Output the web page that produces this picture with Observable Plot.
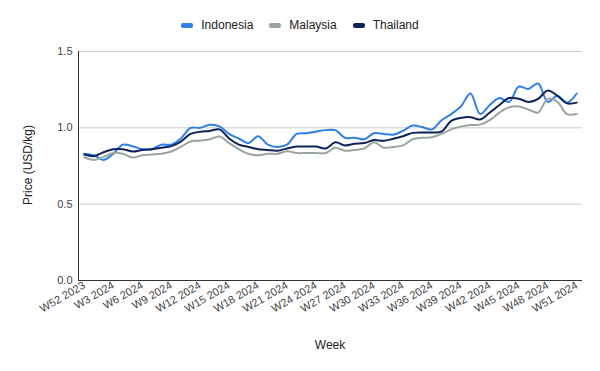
<!DOCTYPE html>
<html><head><meta charset="utf-8">
<script src="https://cdn.jsdelivr.net/npm/d3@7"></script>
<script src="https://cdn.jsdelivr.net/npm/@observablehq/plot@0.6"></script>
<style>
body{margin:0;background:#fff;font-family:"Liberation Sans",Arial,sans-serif;}
#wrap{position:relative;width:600px;height:371px;overflow:hidden;}
#legend{position:absolute;left:0;top:0;width:600px;height:50px;display:flex;justify-content:center;align-items:center;font-size:12px;color:#222;}
#legend .item{display:flex;align-items:center;margin:0 8px;}
#legend .sw{width:12px;height:5px;border-radius:2px;margin-right:8px;}
#chart{position:absolute;left:0;top:40px;}
#ytitle{position:absolute;left:28px;top:165px;transform:translate(-50%,-50%) rotate(-90deg);font-size:12px;color:#222;white-space:nowrap;}
#xtitle{position:absolute;left:330px;top:345px;transform:translate(-50%,-50%);font-size:12px;color:#222;}
</style></head><body>
<div id="wrap">
<div id="chart"></div>
<div id="legend"></div>
<div id="ytitle">Price (USD/kg)</div>
<div id="xtitle">Week</div>
</div>
<script>
const weeks = ["W52 2023"].concat(Array.from({length:51},(_, i)=>"W"+(i+1)+" 2024"));
const seriesNames = ["Indonesia","Malaysia","Thailand"];
const seriesColors = ["#2f7fe8","#9aa59b","#0e2458"];
const indonesia = [0.83,0.82,0.79,0.83,0.89,0.88,0.86,0.86,0.89,0.89,0.93,1.0,1.0,1.02,1.01,0.96,0.93,0.90,0.945,0.89,0.875,0.89,0.96,0.965,0.975,0.985,0.985,0.935,0.935,0.925,0.965,0.96,0.955,0.98,1.015,1.005,0.99,1.05,1.09,1.14,1.225,1.09,1.15,1.195,1.17,1.27,1.255,1.29,1.17,1.21,1.165,1.225];
const malaysia = [0.807,0.79,0.81,0.835,0.83,0.805,0.82,0.825,0.83,0.845,0.875,0.91,0.917,0.925,0.943,0.90,0.86,0.83,0.82,0.83,0.83,0.847,0.835,0.835,0.835,0.835,0.869,0.85,0.855,0.865,0.905,0.87,0.875,0.885,0.925,0.935,0.938,0.96,0.99,1.008,1.018,1.021,1.05,1.10,1.135,1.14,1.12,1.10,1.19,1.17,1.09,1.09];
const thailand = [0.825,0.814,0.84,0.86,0.86,0.845,0.855,0.86,0.87,0.88,0.91,0.96,0.975,0.98,0.99,0.93,0.89,0.875,0.86,0.855,0.85,0.865,0.877,0.877,0.877,0.865,0.905,0.885,0.895,0.90,0.92,0.915,0.928,0.945,0.967,0.97,0.97,0.975,1.045,1.065,1.07,1.055,1.10,1.15,1.195,1.19,1.17,1.19,1.245,1.21,1.16,1.165];
const yTicks = [0,0.5,1.0,1.5];
const xTicks = weeks.filter((d,i)=>i%3===0);

const seriesValues = [indonesia, malaysia, thailand];
const data = [];
seriesNames.forEach((s,k)=>weeks.forEach((w,i)=>data.push({series:s, week:w, value:seriesValues[k][i]})));

const legend = document.getElementById("legend");
seriesNames.forEach((s,k)=>{
  const it = document.createElement("div"); it.className="item";
  const sw = document.createElement("div"); sw.className="sw"; sw.style.background=seriesColors[k];
  const tx = document.createElement("span"); tx.textContent=s;
  it.appendChild(sw); it.appendChild(tx); legend.appendChild(it);
});

const chart = Plot.plot({
  width:600, height:331,
  marginLeft:78, marginRight:18, marginTop:11, marginBottom:91,
  style:{fontFamily:"Liberation Sans, Arial, sans-serif", fontSize:"11px", color:"#444", background:"#fff"},
  x:{type:"point", domain:weeks, padding:0.6},
  y:{domain:[0,1.5]},
  color:{domain:seriesNames, range:seriesColors},
  marks:[
    Plot.gridY(yTicks,{stroke:"#cccccc", strokeOpacity:1}),
    Plot.axisY(yTicks,{tickFormat:d=>d.toFixed(1), tickSize:0, tickPadding:6, label:null}),
    Plot.axisX(xTicks,{tickRotate:-30, tickSize:0, tickPadding:4, label:null}),
    Plot.lineY(data,{x:"week", y:"value", stroke:"series", curve:"catmull-rom", strokeWidth:2}),
    Plot.ruleY([0],{stroke:"#333"}),
    Plot.frame({anchor:"left", stroke:"#333"})
  ]
});
document.getElementById("chart").appendChild(chart);
</script>
</body></html>
